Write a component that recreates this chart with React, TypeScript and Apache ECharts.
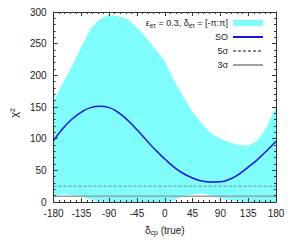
import React, { useEffect, useRef } from "react";
import * as echarts from "echarts";

// delta_cp (true), degrees
const deltaCP = [-180, -165, -150, -135, -120, -105, -90, -75, -60, -45, -30, -15, 0, 15, 30, 45, 60, 75, 90, 105, 120, 135, 150, 165, 180];
// SO curve chi^2
const soChi2 = [97, 116, 131, 142, 149, 151, 149, 141, 129, 114, 98, 82, 68, 55, 45, 38, 33, 31.5, 32, 36, 44, 55, 67, 81, 96];
// band (eps_et = 0.3, delta_et in [-pi:pi]) upper and lower edges
const bandUpper = [160, 187, 215, 245, 274, 289, 296, 293, 289, 275, 259, 241, 222, 192, 166, 142, 124, 108, 100, 94, 90, 89, 97, 118, 150];
const bandLower = [9, 12, 11, 8, 4, 1, 0, 0, 0, 0, 0, 0, 0, 3, 9, 12, 13, 10, 6, 3, 1, 0, 0, 0, 0];
// significance levels
const sigmaNames = ["5σ", "3σ"];
const sigmaValues = [25, 9];
const xRange = [-180, 180];
const yRange = [0, 300];

const FONT = "Liberation Sans, Arial, Helvetica, sans-serif";
const CYAN = "#7ffcfc";

const axisCommon: any = {
  type: "value",
  z: 10,
  axisLine: { show: true, onZero: false, lineStyle: { color: "#333", width: 1 } },
  axisTick: { show: true, inside: true, length: 4, lineStyle: { color: "#333", width: 1 } },
  minorTick: { show: true, splitNumber: 5, length: 2, lineStyle: { color: "#333", width: 1 } },
  splitLine: { show: false },
  minorSplitLine: { show: false },
};

export default function App() {
  const ref = useRef<HTMLDivElement>(null);
  useEffect(() => {
    if (!ref.current) return;
    const chart = echarts.init(ref.current, null, { renderer: "svg" });
    const labelStyle = { fontSize: 10, color: "#222", fontFamily: FONT };
    const hideSymbol = { itemStyle: { opacity: 0 } };
    const option: any = {
      animation: false,
      grid: { left: 51, right: 18, top: 12, bottom: 43, containLabel: false },
      xAxis: [
        {
          ...axisCommon,
          min: xRange[0],
          max: xRange[1],
          interval: 45,
          position: "bottom",
          axisLabel: { ...labelStyle, margin: 6 },
          name: "{d|δ}{s|cp}{d| (true)}",
          nameLocation: "middle",
          nameGap: 22,
          nameTextStyle: {
            fontFamily: FONT,
            color: "#222",
            rich: {
              d: { fontSize: 10, lineHeight: 12, fontFamily: FONT, color: "#222" },
              s: { fontSize: 7, lineHeight: 6, verticalAlign: "bottom", fontFamily: FONT, color: "#222" },
            },
          },
        },
        {
          ...axisCommon,
          min: xRange[0],
          max: xRange[1],
          interval: 45,
          position: "top",
          axisLabel: { show: false },
        },
      ],
      yAxis: [
        {
          ...axisCommon,
          min: yRange[0],
          max: yRange[1],
          interval: 50,
          position: "left",
          axisLabel: { ...labelStyle, margin: 7 },
          name: "χ²",
          nameLocation: "middle",
          nameRotate: 90,
          nameGap: 32,
          nameTextStyle: { fontSize: 11, color: "#222", fontFamily: FONT, padding: [0, 12, 0, 0] },
        },
        {
          ...axisCommon,
          min: yRange[0],
          max: yRange[1],
          interval: 50,
          position: "right",
          axisLabel: { show: false },
        },
      ],
      legend: {
        data: [
          { name: "band", icon: "rect" },
          { name: "SO", ...hideSymbol },
          { name: sigmaNames[0], ...hideSymbol },
          { name: sigmaNames[1], ...hideSymbol },
        ],
        orient: "vertical",
        align: "right",
        right: 30,
        top: 17,
        itemWidth: 30,
        itemHeight: 6,
        itemGap: 2,
        padding: 0,
        selectedMode: false,
        formatter: (name: string) =>
          name === "band"
            ? "{t|ε}{s|eτ}{t| = 0.3, δ}{s|eτ}{t| = [-π:π]}"
            : `{t|${name}}`,
        textStyle: {
          fontSize: 9,
          color: "#222",
          fontFamily: FONT,
          lineHeight: 12,
          rich: {
            t: { fontSize: 9, lineHeight: 12, fontFamily: FONT, color: "#222" },
            s: { fontSize: 6.5, lineHeight: 6, verticalAlign: "bottom", fontFamily: FONT, color: "#222" },
          },
        },
      },
      series: [
        {
          name: "band",
          type: "line",
          color: CYAN,
          data: deltaCP.map((d, i) => [d, bandUpper[i]]),
          symbol: "none",
          lineStyle: { width: 0, opacity: 0 },
          areaStyle: { color: CYAN, opacity: 1 },
          silent: true,
          z: 1,
        },
        {
          name: "bandLowerEdge",
          type: "line",
          color: "#ffffff",
          data: deltaCP.map((d, i) => [d, bandLower[i]]),
          symbol: "none",
          smooth: 0.3,
          lineStyle: { width: 0, opacity: 0 },
          areaStyle: { color: "#ffffff", opacity: 1 },
          silent: true,
          z: 2,
        },
        {
          name: sigmaNames[0],
          type: "line",
          color: "#888",
          data: xRange.map((x) => [x, sigmaValues[0]]),
          symbol: "none",
          lineStyle: { color: "#888", width: 1, type: [3, 2] },
          z: 3,
        },
        {
          name: sigmaNames[1],
          type: "line",
          color: "#a0a0a0",
          data: xRange.map((x) => [x, sigmaValues[1]]),
          symbol: "none",
          lineStyle: { color: "#a0a0a0", width: 1.5 },
          z: 3,
        },
        {
          name: "SO",
          type: "line",
          color: "#1414e0",
          data: deltaCP.map((d, i) => [d, soChi2[i]]),
          symbol: "none",
          smooth: 0.5,
          lineStyle: { color: "#1414e0", width: 1.5 },
          z: 4,
        },
      ],
    };
    chart.setOption(option);
    return () => chart.dispose();
  }, []);
  return <div ref={ref} style={{ width: 294, height: 245, position: "absolute", left: 0, top: 0 }} />;
}
